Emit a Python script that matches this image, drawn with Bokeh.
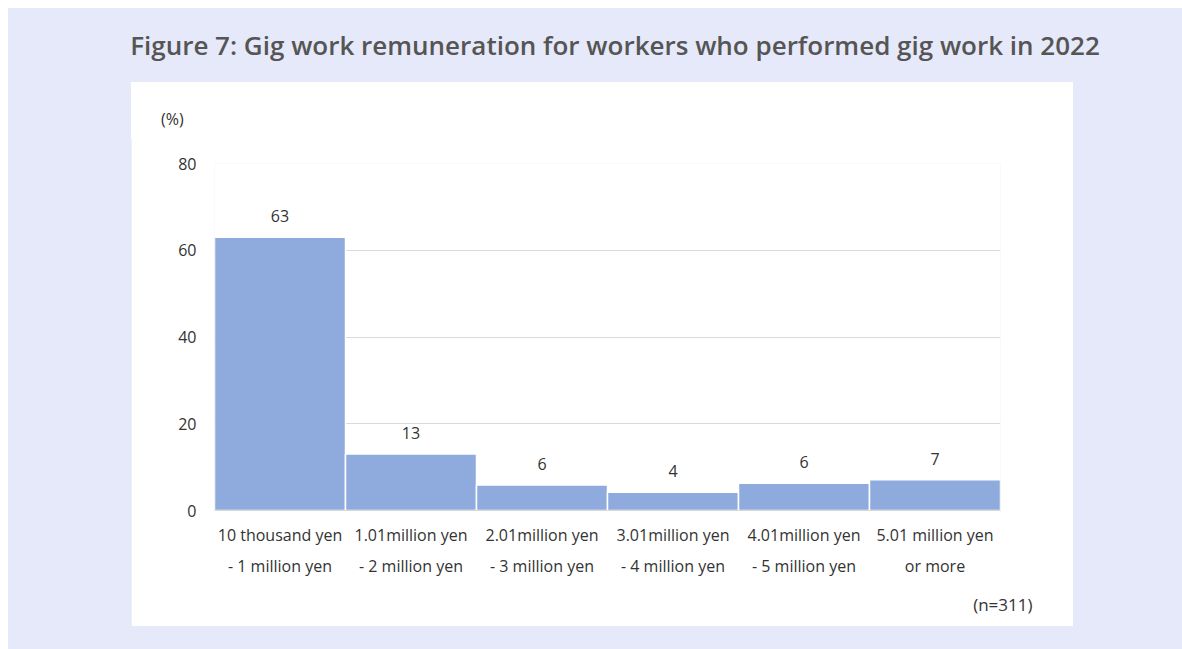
from bokeh.plotting import figure
from bokeh.models import ColumnDataSource, Div, Title
from bokeh.layouts import column
from bokeh.embed import file_html
from bokeh.resources import INLINE
from bokeh.core.properties import value

# ---- data ----
categories = [
    "10 thousand yen\n- 1 million yen",
    "1.01million yen\n- 2 million yen",
    "2.01million yen\n- 3 million yen",
    "3.01million yen\n- 4 million yen",
    "4.01million yen\n- 5 million yen",
    "5.01 million yen\nor more",
]
shares = [63.0, 13.0, 5.9, 4.2, 6.3, 7.1]
share_labels = ["63", "13", "6", "4", "6", "7"]
y_ticks = [0, 20, 40, 60, 80]
title_text = "Figure 7: Gig work remuneration for workers who performed gig work in 2022"
unit_text = "(%)"
n_text = "(n=311)"

FONT = "Open Sans"
BG = "#e6e9f9"
BAR = "#8faadc"
TXT = "#333333"

src = ColumnDataSource(dict(cat=categories, v=shares, lab=share_labels))

p = figure(
    x_range=categories, y_range=(0, 80),
    width=942, height=489,
    min_border_left=83, min_border_right=73, min_border_top=26, min_border_bottom=116,
    output_backend="svg", toolbar_location=None,
    background_fill_color="white", border_fill_color="white",
    outline_line_color=None,
    margin=(0, 0, 0, 123),
)

p.vbar(x="cat", top="v", width=1.0, source=src, fill_color=BAR,
       line_color="white", line_width=1.5)

p.text(x="cat", y="v", text="lab", source=src, text_align="center",
       text_baseline="middle", y_offset=-21, text_font=value(FONT),
       text_font_size="16px", text_color=TXT)

# axes
p.yaxis.ticker = y_ticks
p.yaxis.axis_line_color = None
p.yaxis.major_tick_line_color = None
p.yaxis.minor_tick_line_color = None
p.yaxis.major_label_text_font = FONT
p.yaxis.major_label_text_font_size = "16px"
p.yaxis.major_label_text_color = TXT
p.yaxis.major_label_standoff = 12

p.xaxis.axis_line_color = "#d9d9d9"
p.xaxis.major_tick_line_color = None
p.xaxis.minor_tick_line_color = None
p.xaxis.major_label_text_font = FONT
p.xaxis.major_label_text_font_size = "16px"
p.xaxis.major_label_text_color = TXT
p.xaxis.major_label_text_line_height = 1.42
p.xaxis.major_label_standoff = 7

p.xgrid.grid_line_color = None
p.ygrid.grid_line_color = "#d9d9d9"
p.ygrid.grid_line_width = 1

p.add_layout(Title(text=n_text, align="right", offset=-32, standoff=22,
                   text_font=FONT, text_font_size="17px", text_font_style="normal",
                   text_color=TXT), "below")

title = Div(
    text=title_text, width=1134, height=74, margin=(0, 0, 0, 40),
    styles={"text-align": "center", "font-family": FONT, "font-weight": "600",
            "font-size": "26px", "color": "#555555", "line-height": "74px",
            "white-space": "nowrap"},
)

unit_div = Div(
    text=unit_text, width=942, height=55, margin=(0, 0, 0, 123),
    styles={"background-color": "white", "font-family": FONT, "font-size": "16px",
            "color": TXT, "line-height": "74px", "text-indent": "30px",
            "overflow": "hidden", "white-space": "nowrap",
            "box-shadow": "0 2px 0 0 white"},
)

layout = column(title, unit_div, p, width=1174, height=641, spacing=0, margin=(8, 0, 0, 8),
                styles={"background-color": BG})

open("out.html", "w").write(file_html(layout, INLINE))
